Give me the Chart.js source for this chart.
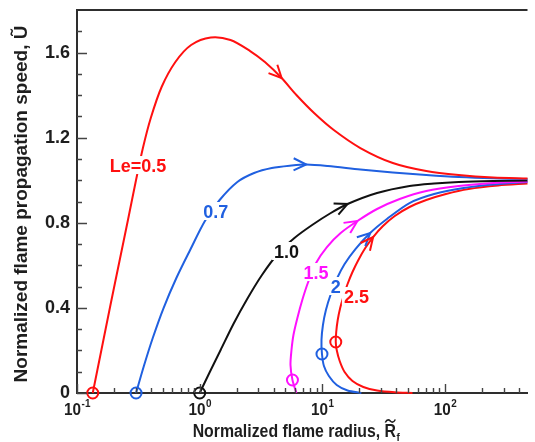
<!DOCTYPE html>
<html>
<head>
<meta charset="utf-8">
<script src="https://cdn.jsdelivr.net/npm/chart.js@4.4.1/dist/chart.umd.min.js"></script>
<style>
  html, body { margin: 0; padding: 0; background: #fff; overflow: hidden; }
  #c { display: block; }
</style>
</head>
<body>
<canvas id="c" width="535" height="442" style="width:535px;height:442px"></canvas>
<script>
// Normalized flame radius R (x) and propagation speed U (y) for each Lewis number
const le05R = [0.1344, 0.1587, 0.1874, 0.2212, 0.2612, 0.3029, 0.3445, 0.3994, 0.4894, 0.6336, 0.8515, 1.232, 1.782, 2.578, 3.402, 4.656, 6.143, 8.562, 12.39, 20.40, 37.52, 70.28, 129.3, 246.7, 470];
const le05U = [0, 0.2068, 0.4135, 0.6156, 0.8177, 1.001, 1.1513, 1.2923, 1.438, 1.5555, 1.6353, 1.6706, 1.6588, 1.6071, 1.5555, 1.4803, 1.4004, 1.3158, 1.2359, 1.1513, 1.0808, 1.0432, 1.0244, 1.0127, 1.008];

const le07R = [0.3029, 0.3509, 0.4145, 0.5077, 0.6457, 0.8360, 1.103, 1.455, 2.028, 2.777, 3.871, 5.602, 7.387, 11.09, 20.40, 37.52, 70.28, 129.3, 246.7, 470];
const le07U = [0, 0.1269, 0.2585, 0.3994, 0.5404, 0.672, 0.8083, 0.907, 0.9915, 1.0338, 1.0573, 1.0691, 1.0738, 1.0667, 1.0503, 1.0362, 1.0244, 1.015, 1.0089, 1.0056];

const le10R = [1.0, 1.209, 1.482, 1.884, 2.439, 3.218, 4.323, 5.920, 8.253, 11.72, 16.05, 27.92, 51.34, 81.47, 129.3, 246.7, 470];
const le10U = [0, 0.0987, 0.2021, 0.3242, 0.4417, 0.5545, 0.6532, 0.7284, 0.7895, 0.8459, 0.8882, 0.9399, 0.9727, 0.9845, 0.9915, 0.9962, 0.9986];

const le15R = [6.143, 5.705, 5.498, 5.602, 5.812, 6.257, 6.859, 7.665, 8.886, 10.89, 14.10, 19.30, 27.92, 42.69, 70.28, 129.3, 246.7, 470];
const le15U = [0, 0.0611, 0.1316, 0.2021, 0.2726, 0.3524, 0.437, 0.5216, 0.6109, 0.6861, 0.7519, 0.8083, 0.8647, 0.9117, 0.9492, 0.9727, 0.9868, 0.9939];

const le20R = [20.78, 16.05, 13.09, 11.30, 10.30, 9.927, 9.836, 10.11, 10.69, 11.72, 13.09, 15.18, 18.60, 24.53, 33.59, 51.34, 81.47, 141.8, 246.7, 470];
const le20U = [0, 0.0117, 0.0376, 0.0799, 0.1269, 0.1833, 0.2491, 0.3195, 0.39, 0.4652, 0.5357, 0.6062, 0.6767, 0.7519, 0.8177, 0.8929, 0.9352, 0.9633, 0.9798, 0.9915];

const le25R = [54.27, 38.92, 27.92, 21.56, 17.60, 15.18, 13.84, 13.09, 12.86, 12.97, 13.34, 13.97, 14.90, 16.05, 17.60, 19.66, 22.37, 25.93, 31.19, 38.92, 51.34, 70.28, 101.7, 155.5, 270.5, 470];
const le25U = [0, 0.0033, 0.0117, 0.0282, 0.0564, 0.0987, 0.1504, 0.2021, 0.2397, 0.2867, 0.3430, 0.3994, 0.4558, 0.5122, 0.5686, 0.6250, 0.6814, 0.7331, 0.7848, 0.8318, 0.8741, 0.9070, 0.9352, 0.9586, 0.9751, 0.9845];

// Curve annotations
const curveLabels = ['Le=0.5', '0.7', '1.0', '1.5', '2', '2.5'];
const labelR = [0.3141, 1.351, 5.107, 8.886, 12.86, 18.94];
const labelU = [1.0714, 0.8553, 0.6673, 0.5686, 0.5028, 0.4558];
const markerIndex = [0, 0, 0, 1, 5, 8];     // open circle: initial state
const arrowIndex = [15, 12, 10, 11, 13, 17]; // direction of propagation

// Axis ticks
const yMajorTicks = [0, 0.4, 0.8, 1.2, 1.6];
const yTickLabels = ['0', '0.4', '0.8', '1.2', '1.6'];
const yMinorTicks = [0.1, 0.2, 0.3, 0.5, 0.6, 0.7, 0.9, 1.0, 1.1, 1.3, 1.4, 1.5, 1.7];
const xMajorTicks = [0.1, 1, 10, 100];
const xTickBase = '10';
const xTickExponents = ['-1', '0', '1', '2'];
const xMinorTicks = [0.2, 0.3, 0.4, 0.5, 0.6, 0.7, 0.8, 0.9, 2, 3, 4, 5, 6, 7, 8, 9, 20, 30, 40, 50, 60, 70, 80, 90, 200, 300, 400];

const RED = '#ff1010', BLUE = '#2060e0', BLACK = '#111111', MAGENTA = '#ff10ff';
const curveColors = [RED, BLUE, BLACK, MAGENTA, BLUE, RED];
const FAMILY = '"Liberation Sans", Arial, Helvetica, sans-serif';
const AXIS = '#2e2e2e';

const curves = [[le05R, le05U], [le07R, le07U], [le10R, le10U], [le15R, le15U], [le20R, le20U], [le25R, le25U]];
const toPoints = (R, U) => R.map((r, i) => ({ x: r, y: U[i] }));

const markerPoints = curves.map(([R, U], k) => ({ x: R[markerIndex[k]], y: U[markerIndex[k]] }));

const datasets = [{
  label: 'initial',
  data: markerPoints,
  showLine: false,
  pointRadius: 5.5,
  pointHoverRadius: 5.5,
  pointBorderWidth: 2,
  pointBorderColor: curveColors,
  pointBackgroundColor: 'rgba(0,0,0,0)',
  clip: false
}].concat(curves.map(([R, U], k) => ({
  label: curveLabels[k],
  data: toPoints(R, U),
  borderColor: curveColors[k],
  borderWidth: 2,
  pointRadius: 0,
  tension: 0.3,
  fill: false,
  clip: false
})));

function drawText(ctx, str, x, y, size, align, sx) {
  ctx.save();
  ctx.translate(x, y);
  ctx.scale(sx, 1);
  ctx.font = `bold ${size}px ${FAMILY}`;
  ctx.textAlign = align;
  ctx.textBaseline = 'alphabetic';
  ctx.fillText(str, 0, 0);
  ctx.restore();
}
function textWidth(ctx, str, size, sx) {
  ctx.save();
  ctx.font = `bold ${size}px ${FAMILY}`;
  const w = ctx.measureText(str).width * sx;
  ctx.restore();
  return w;
}

const decorations = {
  id: 'decorations',
  afterDatasetsDraw(chart) {
    const { ctx, chartArea: a, scales: { x, y } } = chart;
    ctx.save();

    // top frame line
    ctx.strokeStyle = AXIS;
    ctx.lineWidth = 2;
    ctx.beginPath();
    ctx.moveTo(a.left - 1, a.top);
    ctx.lineTo(a.right, a.top);
    ctx.stroke();

    // inward tick marks
    ctx.strokeStyle = '#444';
    ctx.lineWidth = 1.4;
    ctx.beginPath();
    yMajorTicks.forEach(v => { const py = Math.round(y.getPixelForValue(v)) + 0.5; ctx.moveTo(a.left, py); ctx.lineTo(a.left + 10, py); });
    yMinorTicks.forEach(v => { const py = Math.round(y.getPixelForValue(v)) + 0.5; ctx.moveTo(a.left, py); ctx.lineTo(a.left + 5, py); });
    xMajorTicks.forEach(v => { const px = Math.round(x.getPixelForValue(v)) + 0.5; ctx.moveTo(px, a.bottom); ctx.lineTo(px, a.bottom - 9); });
    xMinorTicks.forEach(v => { const px = Math.round(x.getPixelForValue(v)) + 0.5; ctx.moveTo(px, a.bottom); ctx.lineTo(px, a.bottom - 5); });
    ctx.stroke();

    // propagation arrows (open chevrons)
    curves.forEach((c, k) => {
      const meta = chart.getDatasetMeta(k + 1);
      const i = arrowIndex[k];
      const p = meta.data[i], p0 = meta.data[i - 1], p1 = meta.data[i + 1];
      const ang = Math.atan2(p1.y - p0.y, p1.x - p0.x);
      const len = 14, half = 0.45;
      ctx.strokeStyle = curveColors[k];
      ctx.lineWidth = 2;
      ctx.beginPath();
      ctx.moveTo(p.x - len * Math.cos(ang - half), p.y - len * Math.sin(ang - half));
      ctx.lineTo(p.x, p.y);
      ctx.lineTo(p.x - len * Math.cos(ang + half), p.y - len * Math.sin(ang + half));
      ctx.stroke();
    });

    // curve labels on a white backing
    curveLabels.forEach((t, k) => {
      const px = x.getPixelForValue(labelR[k]);
      const py = y.getPixelForValue(labelU[k]);
      const w = textWidth(ctx, t, 18, 1);
      ctx.fillStyle = '#fff';
      ctx.fillRect(px - w / 2 - 2, py - 9, w + 4, 18);
      ctx.fillStyle = curveColors[k];
      drawText(ctx, t, px, py + 6.5, 18, 'center', 1);
    });

    // x tick labels: 10 with exponent
    ctx.fillStyle = '#1e1e1e';
    xMajorTicks.forEach((v, i) => {
      const px = x.getPixelForValue(v);
      const wb = textWidth(ctx, xTickBase, 17, 0.9);
      const we = textWidth(ctx, xTickExponents[i], 11, 0.9);
      const start = px - (wb + we) / 2;
      drawText(ctx, xTickBase, start, a.bottom + 22, 17, 'left', 0.9);
      drawText(ctx, xTickExponents[i], start + wb + 0.5, a.bottom + 14, 11, 'left', 0.9);
    });

    // x axis title with tilde R and subscript f
    const main = 'Normalized flame radius, ';
    const wm = textWidth(ctx, main, 18, 0.88);
    const wr = textWidth(ctx, 'R', 18, 0.88);
    const wf = textWidth(ctx, 'f', 11, 0.9);
    const left = 296 - (wm + wr + wf) / 2;
    const base = a.bottom + 44;
    drawText(ctx, main, left, base, 18, 'left', 0.88);
    drawText(ctx, 'R', left + wm, base, 18, 'left', 0.88);
    drawText(ctx, 'f', left + wm + wr + 0.5, base + 4, 11, 'left', 0.9);
    const cx = left + wm + wr / 2, ty = base - 16;
    ctx.strokeStyle = '#1e1e1e';
    ctx.lineWidth = 1.6;
    ctx.beginPath();
    ctx.moveTo(cx - 5, ty + 1.5);
    ctx.bezierCurveTo(cx - 3, ty - 2.5, cx - 1, ty - 1, cx, ty);
    ctx.bezierCurveTo(cx + 1, ty + 1, cx + 3, ty + 2.5, cx + 5, ty - 1.5);
    ctx.stroke();

    // y axis title
    ctx.save();
    ctx.translate(27, 204);
    ctx.rotate(-Math.PI / 2);
    ctx.font = `bold 19px ${FAMILY}`;
    ctx.textAlign = 'center';
    ctx.textBaseline = 'alphabetic';
    ctx.fillText('Normalized flame propagation speed, \u0168', 0, 0);
    ctx.restore();

    ctx.restore();
  }
};

new Chart(document.getElementById('c'), {
  type: 'line',
  data: { datasets },
  options: {
    responsive: false,
    devicePixelRatio: 1,
    animation: false,
    layout: { padding: { top: 10, right: 0, bottom: 0, left: 0 } },
    plugins: { legend: { display: false }, tooltip: { enabled: false } },
    scales: {
      x: {
        type: 'logarithmic',
        position: 'bottom',
        min: 0.1,
        max: 470,
        afterBuildTicks: s => { s.ticks = xMajorTicks.map(v => ({ value: v })); },
        afterFit: s => { s.height = 49; s.paddingLeft = 0; s.paddingRight = 0; },
        grid: { display: false, drawTicks: false },
        border: { display: true, color: AXIS, width: 2 },
        ticks: { display: false }
      },
      y: {
        type: 'linear',
        min: 0,
        max: 1.8,
        afterBuildTicks: s => { s.ticks = yMajorTicks.map(v => ({ value: v })); },
        afterFit: s => { s.width = 77; s.paddingTop = 0; s.paddingBottom = 0; },
        grid: { display: false, drawTicks: false },
        border: { display: true, color: AXIS, width: 2 },
        ticks: {
          padding: 7,
          color: '#1e1e1e',
          font: { family: FAMILY, size: 18, weight: 'bold' },
          callback: (v, i) => yTickLabels[i]
        }
      }
    }
  },
  plugins: [decorations]
});
</script>
</body>
</html>
